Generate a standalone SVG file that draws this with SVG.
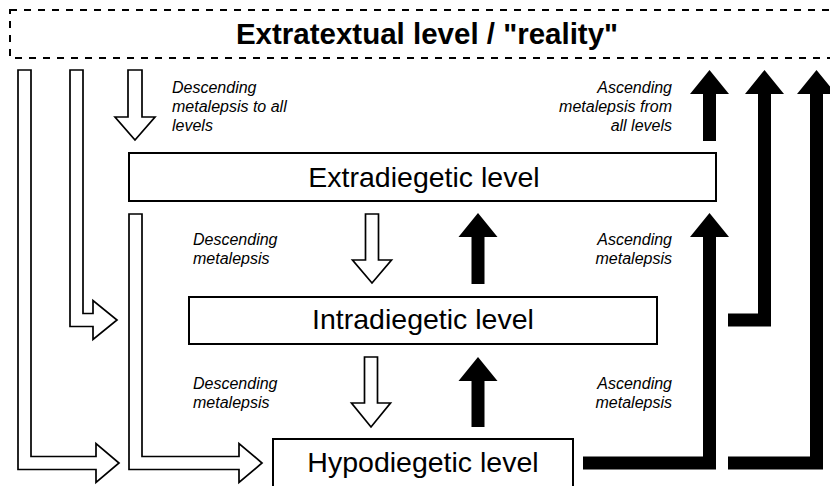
<svg xmlns="http://www.w3.org/2000/svg" width="830" height="486" viewBox="0 0 830 486">
<style>
text{font-family:"Liberation Sans",Arial,Helvetica,sans-serif;fill:#000}
.box{fill:#fff;stroke:#000;stroke-width:2}
.lvl{font-size:28.5px;text-anchor:middle}
.lbl{font-size:16px;font-style:italic}
.r{text-anchor:end}
.hol{fill:#fff;stroke:#000;stroke-width:1.7;stroke-linejoin:miter}
.sol{fill:#000;stroke:none}
</style>
<rect width="830" height="486" fill="#fff"/>
<g id="reality">
<rect x="10" y="10" width="850" height="48" fill="none" stroke="#000" stroke-width="2" stroke-dasharray="7,7"/>
<text x="427" y="44" font-size="29.5" font-weight="bold" text-anchor="middle">Extratextual level / "reality"</text>
</g>
<g id="extradiegetic">
<rect class="box" x="129" y="153" width="587" height="48"/>
<text class="lvl" x="424" y="187">Extradiegetic level</text>
</g>
<g id="intradiegetic">
<rect class="box" x="189" y="297" width="468" height="47"/>
<text class="lvl" x="423" y="329">Intradiegetic level</text>
</g>
<g id="hypodiegetic">
<rect class="box" x="273" y="439" width="300" height="70"/>
<text class="lvl" x="423" y="472">Hypodiegetic level</text>
</g>
<g id="connectors">
<polygon class="hol" points="128,70 142,70 142,117 155,117 135,140 115,117 128,117"/>
<polygon class="hol" points="365.5,214 378.5,214 378.5,260 391.5,260 372,283 352.5,260 365.5,260"/>
<polygon class="hol" points="364.5,357 377.5,357 377.5,403 390.5,403 371,427 351.5,403 364.5,403"/>
<polygon class="hol" points="18,70 31,70 31,456.5 96,456.5 96,443.5 119,463 96,482.5 96,469.5 18,469.5"/>
<polygon class="hol" points="70,70 83,70 83,313.5 93,313.5 93,300.5 117,320 93,339.5 93,326.5 70,326.5"/>
<polygon class="hol" points="129,214 142,214 142,456.5 239,456.5 239,443.5 262,463 239,482.5 239,469.5 129,469.5"/>
<polygon class="sol" points="471.5,284 484.5,284 484.5,237 497.5,237 478,213 458.5,237 471.5,237"/>
<polygon class="sol" points="471.5,427 484.5,427 484.5,381 497.5,381 478,357 458.5,381 471.5,381"/>
<polygon class="sol" points="703,141 716,141 716,94 729,94 709.5,70 690,94 703,94"/>
<polygon class="sol" points="583,456.5 703,456.5 703,237 690,237 709.5,213 729,237 716,237 716,469.5 583,469.5"/>
<polygon class="sol" points="728,313.5 758,313.5 758,94 745,94 764.5,70 784,94 771,94 771,326.5 728,326.5"/>
<polygon class="sol" points="728,456.5 810,456.5 810,94 797,94 816.5,70 836,94 823,94 823,469.5 728,469.5"/>
</g>
<g id="labels">
<text class="lbl" x="172" y="93">Descending</text>
<text class="lbl" x="172" y="112">metalepsis to all</text>
<text class="lbl" x="172" y="131">levels</text>
<text class="lbl r" x="672" y="93">Ascending</text>
<text class="lbl r" x="672" y="112">metalepsis from</text>
<text class="lbl r" x="672" y="131">all levels</text>
<text class="lbl" x="193" y="245">Descending</text>
<text class="lbl" x="193" y="264">metalepsis</text>
<text class="lbl r" x="672" y="245">Ascending</text>
<text class="lbl r" x="672" y="264">metalepsis</text>
<text class="lbl" x="193" y="389">Descending</text>
<text class="lbl" x="193" y="408">metalepsis</text>
<text class="lbl r" x="672" y="389">Ascending</text>
<text class="lbl r" x="672" y="408">metalepsis</text>
</g>
</svg>
